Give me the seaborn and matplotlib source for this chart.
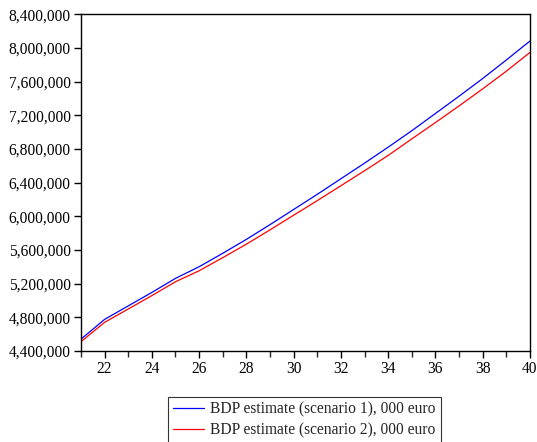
import matplotlib
matplotlib.use("Agg")
import matplotlib.pyplot as plt
import matplotlib.ticker as mticker
import seaborn as sns
import pandas as pd

# years and the two BDP series (000 euro)
years = list(range(21, 41))
scenario1 = [4540000, 4775000, 4935000, 5095000, 5262000, 5400000, 5560000,
             5725000, 5900000, 6080000, 6260000, 6445000, 6630000, 6820000,
             7015000, 7220000, 7425000, 7635000, 7855000, 8080000]
scenario2 = [4510000, 4740000, 4898000, 5057000, 5222000, 5352000, 5508000,
             5668000, 5838000, 6012000, 6185000, 6362000, 6540000, 6722000,
             6918000, 7112000, 7310000, 7512000, 7722000, 7945000]
labels = ["BDP estimate (scenario 1), 000 euro",
          "BDP estimate (scenario 2), 000 euro"]

df = pd.concat([
    pd.DataFrame({"year": years, "value": scenario1, "serie": labels[0]}),
    pd.DataFrame({"year": years, "value": scenario2, "serie": labels[1]}),
])

sns.set_style("ticks")
plt.rcParams['font.family'] = ['Liberation Serif', 'DejaVu Serif']
plt.rcParams['font.size'] = 11

fig = plt.figure(figsize=(5.37, 4.42), dpi=100)
ax = fig.add_axes([0.1508, 0.206, 0.836, 0.762])

sns.lineplot(data=df, x="year", y="value", hue="serie",
             palette=["#0000ff", "#ff0000"], linewidth=0.9, ax=ax)

ax.set_xlim(21, 40)
ax.set_ylim(4400000, 8400000)
ax.xaxis.set_major_locator(mticker.MultipleLocator(2))
ax.xaxis.set_minor_locator(mticker.MultipleLocator(1))
ax.yaxis.set_major_locator(mticker.MultipleLocator(400000))
ax.yaxis.set_major_formatter(mticker.FuncFormatter(lambda v, p: f"{int(v):,}"))
ax.set_xlabel("")
ax.set_ylabel("")
ax.tick_params(axis="both", which="major", length=5, width=1, colors="black",
               labelsize=11.2, pad=2.5)
ax.tick_params(axis="x", which="minor", length=4, width=1)
for s in ax.spines.values():
    s.set_visible(True)
    s.set_color("black")
    s.set_linewidth(1.0)

leg = ax.legend(loc="upper center", bbox_to_anchor=(0.498, -0.137),
                borderaxespad=0, frameon=True, fancybox=False,
                edgecolor="black", handlelength=2.0, borderpad=0.3,
                labelspacing=0.3, handletextpad=0.4, fontsize=11.2)
leg.get_frame().set_linewidth(0.8)

fig.savefig("out.png", dpi=100)
